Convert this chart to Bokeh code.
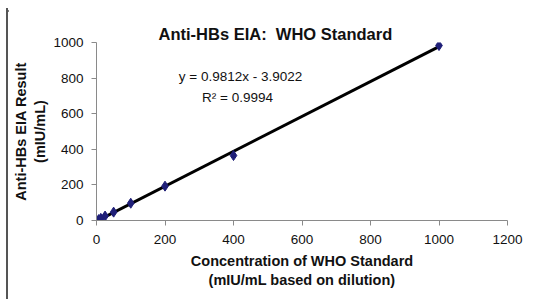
from bokeh.plotting import figure
from bokeh.models import Label, Range1d, FixedTicker, Div
from bokeh.layouts import column, row
from bokeh.embed import file_html
from bokeh.resources import INLINE
import numpy as np

# Data
concentration = [0, 6.25, 12.5, 25, 50, 100, 200, 400, 1000]
eia_result = [0, 5, 12, 25, 47, 97, 193, 365, 983]
slope = 0.9812
intercept = -3.9022
r_squared = 0.9994
x_ticks = [0, 200, 400, 600, 800, 1000, 1200]
y_ticks = [0, 200, 400, 600, 800, 1000]

FONT = "Liberation Sans"
NBSP = "\u00a0"
FRAME_GRAY = "#555555"

p = figure(width=528, height=291, output_backend="svg", toolbar_location=None,
           x_range=Range1d(0, 1200), y_range=Range1d(0, 1000),
           min_border_left=88, min_border_right=29, min_border_top=34, min_border_bottom=79)
p.outline_line_color = None
p.xgrid.visible = False
p.ygrid.visible = False

p.title.text = "Anti-HBs EIA:" + NBSP + NBSP + "WHO Standard"
p.title.align = "left"
p.title.offset = 62
p.title.standoff = 0
p.title.text_font = FONT
p.title.text_font_size = "16.5px"
p.title.text_font_style = "bold"
p.title.text_color = "#111111"
p.title.vertical_align = "bottom"

for ax in (p.xaxis[0], p.yaxis[0]):
    ax.axis_line_color = "#8a8a8a"
    ax.major_tick_line_color = "#8a8a8a"
    ax.major_tick_out = 5
    ax.major_tick_in = 0
    ax.minor_tick_line_color = None
    ax.major_label_text_font = FONT
    ax.major_label_text_font_size = "13.5px"
    ax.major_label_text_color = "#111111"
    ax.axis_label_text_font = FONT
    ax.axis_label_text_font_size = "14.5px"
    ax.axis_label_text_font_style = "bold"
    ax.axis_label_text_color = "#111111"

p.xaxis.ticker = FixedTicker(ticks=x_ticks)
p.yaxis.ticker = FixedTicker(ticks=y_ticks)
p.xaxis.major_label_standoff = 9
p.yaxis.major_label_standoff = 8
p.xaxis.axis_label = "Concentration of WHO Standard\n(mIU/mL based on dilution)"
p.yaxis.axis_label = "Anti-HBs EIA Result\n(mIU/mL)"
p.xaxis.axis_label_standoff = 6
p.yaxis.axis_label_standoff = 2

# Trend line
xs = np.array([min(concentration), max(concentration)], dtype=float)
p.line(xs, slope * xs + intercept, line_color="black", line_width=3)

# Points
p.scatter(concentration, eia_result, marker="diamond", size=10,
          fill_color="#1f1f78", line_color="#1f1f78")

# Equation (screen units relative to the plot frame)
p.add_layout(Label(x=144, y=144, x_units="screen", y_units="screen",
                   text=f"y = {slope}x - {abs(intercept)}", text_align="center",
                   text_baseline="middle", text_font=FONT, text_font_size="13.5px",
                   text_color="#111111"))
p.add_layout(Label(x=141, y=123, x_units="screen", y_units="screen",
                   text=f"R\u00b2 = {r_squared}", text_align="center",
                   text_baseline="middle", text_font=FONT, text_font_size="13.5px",
                   text_color="#111111"))

# Chart-area border (top and left edges, as in the cropped reference)
top_edge = Div(width=536, height=8, margin=0,
               text=f'<div style="margin:0 0 0 6px;padding:0;width:530px;height:6px;'
                    f'border-bottom:2px solid {FRAME_GRAY}"></div>')
left_edge = Div(width=8, height=291, margin=0,
                text=f'<div style="margin:0 0 0 6px;width:2px;height:291px;background:{FRAME_GRAY}"></div>')

root = column(top_edge, row(left_edge, p, spacing=0), spacing=0)

open("out.html", "w").write(file_html(root, INLINE))
